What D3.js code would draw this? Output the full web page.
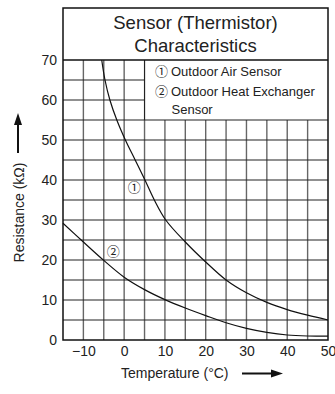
<!DOCTYPE html>
<html>
<head>
<meta charset="utf-8">
<script src="https://cdn.jsdelivr.net/npm/d3@7"></script>
<style>
  html, body { margin: 0; padding: 0; background: #fff; }
  svg { display: block; }
  text { font-family: "Liberation Sans", Arial, "Noto Sans CJK SC", sans-serif; fill: #222; }
</style>
</head>
<body>
<script>
// ---- data ----
const titleLines = ["Sensor (Thermistor)", "Characteristics"];
const legendItems = ["Outdoor Air Sensor", "Outdoor Heat Exchanger"];
const legendMarks = ["\u2460", "\u2461"];
const legendWrap = "Sensor";
const xTicks = [-10, 0, 10, 20, 30, 40, 50];
const yTicks = [0, 10, 20, 30, 40, 50, 60, 70];
const gridStep = 5;
const xDomain = [-15, 50];
const yDomain = [0, 70];
const yFrameTop = 83;
const legendBottom = 55;
const legendLeft = 5;

const airTemps = [-5.5, -4.7, -3.5, -1.8, 0.3, 2.7, 5.1, 7.4, 10.2, 15, 20, 25, 30, 35, 40, 45, 50];
const airValues = [70, 65, 60, 55, 50, 45, 40, 35, 30, 24.5, 19.5, 15.0, 11.8, 9.4, 7.6, 6.2, 5.0];
const hexTemps = [-15, -10, -5, 0, 5, 10, 15, 20, 25, 30, 35, 40, 45, 50];
const hexValues = [29.2, 24.5, 19.9, 15.7, 12.6, 10.1, 8.0, 6.1, 4.3, 2.9, 1.9, 1.25, 1.0, 0.95];
const markerPos = [[2.5, 38.5], [-2.7, 22.5]];

const xLabel = "Temperature (\u00B0C)";
const yLabel = "Resistance (k\u03A9)";

// ---- drawing ----
const W = 335, H = 394;
const svg = d3.select("body").append("svg").attr("width", W).attr("height", H);

const x = d3.scaleLinear().domain(xDomain).range([63, 328]);
const y = d3.scaleLinear().domain(yDomain).range([340, 60]);

const g = svg.append("g");

// vertical grid lines
const vGrid = d3.range(xDomain[0] + gridStep, xDomain[1], gridStep);
g.selectAll(".vg").data(vGrid).join("line")
  .attr("x1", d => x(d)).attr("x2", d => x(d))
  .attr("y1", y(0))
  .attr("y2", d => d >= legendLeft ? y(legendBottom) : y(yDomain[1]))
  .attr("stroke", "#666").attr("stroke-width", 1.4);

// horizontal grid lines
const hGrid = d3.range(gridStep, yDomain[1], gridStep);
g.selectAll(".hg").data(hGrid).join("line")
  .attr("x1", x(xDomain[0]))
  .attr("x2", d => d > legendBottom ? x(legendLeft) : x(xDomain[1]))
  .attr("y1", d => y(d)).attr("y2", d => y(d))
  .attr("stroke", "#222").attr("stroke-width", 1.2);

// legend box left
g.append("line").attr("x1", x(legendLeft)).attr("x2", x(legendLeft))
  .attr("y1", y(legendBottom)).attr("y2", y(yDomain[1]))
  .attr("stroke", "#222").attr("stroke-width", 1.2);

// title box bottom
g.append("line").attr("x1", x(xDomain[0])).attr("x2", x(xDomain[1]))
  .attr("y1", y(yDomain[1])).attr("y2", y(yDomain[1]))
  .attr("stroke", "#111").attr("stroke-width", 1.4);

// outer frame
g.append("rect")
  .attr("x", x(xDomain[0])).attr("y", y(yFrameTop))
  .attr("width", x(xDomain[1]) - x(xDomain[0]))
  .attr("height", y(0) - y(yFrameTop))
  .attr("fill", "none").attr("stroke", "#111").attr("stroke-width", 1.5);

// curves
const line = d3.line().x(d => x(d[0])).y(d => y(d[1])).curve(d3.curveCatmullRom.alpha(0.5));
const airData = airTemps.map((t, i) => [t, airValues[i]]);
const hexData = hexTemps.map((t, i) => [t, hexValues[i]]);
[airData, hexData].forEach(data => {
  g.append("path").datum(data).attr("d", line)
    .attr("fill", "none").attr("stroke", "#111").attr("stroke-width", 1.2);
});

// curve markers
g.selectAll(".mk").data(markerPos).join("text")
  .attr("x", d => x(d[0])).attr("y", d => y(d[1]))
  .attr("text-anchor", "middle").attr("dominant-baseline", "central")
  .attr("font-size", 13)
  .style("font-family", "'Noto Sans CJK SC', sans-serif")
  .text((d, i) => legendMarks[i]);

// title
const cx = (x(xDomain[0]) + x(xDomain[1])) / 2;
svg.selectAll(".title").data(titleLines).join("text")
  .attr("x", cx).attr("y", (d, i) => 29 + i * 23)
  .attr("text-anchor", "middle").attr("font-size", 18.5)
  .text(d => d);

// legend
const legY = [75.5, 96];
legendItems.forEach((t, i) => {
  svg.append("text").attr("x", 155).attr("y", legY[i])
    .attr("font-size", 13)
    .style("font-family", "'Noto Sans CJK SC', sans-serif")
    .text(legendMarks[i]);
  svg.append("text").attr("x", 171).attr("y", legY[i])
    .attr("font-size", 13).text(t);
});
svg.append("text").attr("x", 171.5).attr("y", 113.5)
  .attr("font-size", 13).text(legendWrap);

// axes
const xAxis = d3.axisBottom(x).tickValues(xTicks).tickSize(0).tickPadding(6);
const xa = svg.append("g").attr("transform", `translate(0,${y(0) + 0.5})`).call(xAxis);
xa.select(".domain").remove();
xa.selectAll("text").attr("font-size", 14).attr("fill", "#222")
  .style("font-family", "'Liberation Sans', Arial, sans-serif");

const yAxis = d3.axisLeft(y).tickValues(yTicks).tickSize(0).tickPadding(6);
const ya = svg.append("g").attr("transform", `translate(${x(xDomain[0])},0)`).call(yAxis);
ya.select(".domain").remove();
ya.selectAll("text").attr("font-size", 14).attr("fill", "#222")
  .style("font-family", "'Liberation Sans', Arial, sans-serif");

// x label + arrow
svg.append("text").attr("x", 121).attr("y", 378).attr("font-size", 14).text(xLabel);
svg.append("line").attr("x1", 242).attr("x2", 276).attr("y1", 373.5).attr("y2", 373.5)
  .attr("stroke", "#111").attr("stroke-width", 2);
svg.append("path").attr("d", "M283,373.5 L271,369.5 L271,377.5 Z").attr("fill", "#111");

// y label + arrow
svg.append("text").attr("transform", "translate(24,212.5) rotate(-90)")
  .attr("text-anchor", "middle").attr("font-size", 14).text(yLabel);
svg.append("line").attr("x1", 18).attr("x2", 18).attr("y1", 153).attr("y2", 121)
  .attr("stroke", "#111").attr("stroke-width", 2);
svg.append("path").attr("d", "M18,113 L14,125 L22,125 Z").attr("fill", "#111");
</script>
</body>
</html>
